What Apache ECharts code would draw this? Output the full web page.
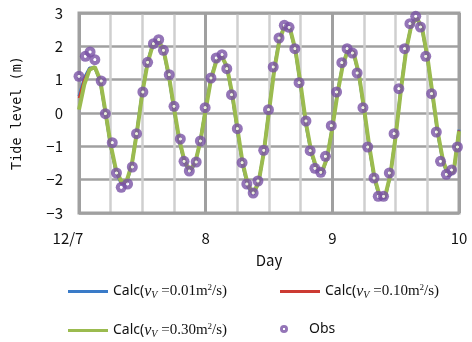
<!DOCTYPE html>
<html>
<head>
<meta charset="utf-8">
<script src="https://cdn.jsdelivr.net/npm/echarts@6/dist/echarts.min.js"></script>
<style>html,body{margin:0;padding:0;background:#fff;}#c{width:472px;height:342px;}</style>
</head>
<body>
<div id="c"></div>
<script>
// Hours since 12/7 00:00 for the hourly calculated values
var calcHours = [0,1,2,3,4,5,6,7,8,9,10,11,12,13,14,15,16,17,18,19,20,21,22,23,24,25,26,27,28,29,30,31,32,33,34,35,36,37,38,39,40,41,42,43,44,45,46,47,48,49,50,51,52,53,54,55,56,57,58,59,60,61,62,63,64,65,66,67,68,69,70,71,72];
var calc001 = [0.50,1.05,1.35,1.36,0.95,0.00,-1.00,-1.75,-2.12,-2.10,-1.55,-0.50,0.65,1.55,2.08,2.18,1.88,1.10,0.10,-0.85,-1.50,-1.76,-1.52,-0.82,0.15,1.05,1.58,1.72,1.38,0.55,-0.52,-1.56,-2.22,-2.45,-2.12,-1.18,0.10,1.35,2.24,2.63,2.50,1.86,0.80,-0.36,-1.20,-1.70,-1.82,-1.35,-0.42,0.65,1.48,1.92,1.80,1.16,0.10,-1.06,-2.00,-2.56,-2.55,-1.86,-0.66,0.75,1.93,2.66,2.84,2.52,1.65,0.50,-0.66,-1.50,-1.90,-1.78,-0.50];
var calc010 = [0.45,1.00,1.33,1.37,0.97,0.02,-0.98,-1.73,-2.10,-2.08,-1.55,-0.52,0.62,1.52,2.06,2.18,1.89,1.12,0.12,-0.83,-1.48,-1.74,-1.51,-0.84,0.12,1.02,1.56,1.72,1.39,0.57,-0.49,-1.53,-2.19,-2.43,-2.11,-1.19,0.07,1.32,2.22,2.62,2.51,1.88,0.82,-0.33,-1.18,-1.68,-1.80,-1.35,-0.44,0.62,1.46,1.91,1.81,1.18,0.12,-1.03,-1.98,-2.53,-2.53,-1.86,-0.68,0.72,1.91,2.65,2.85,2.54,1.68,0.52,-0.63,-1.48,-1.88,-1.77,-0.52];
var calc030 = [0.10,0.85,1.30,1.38,1.00,0.05,-0.95,-1.70,-2.05,-2.05,-1.55,-0.55,0.60,1.50,2.05,2.18,1.90,1.15,0.15,-0.80,-1.45,-1.72,-1.50,-0.85,0.10,1.00,1.55,1.72,1.40,0.60,-0.45,-1.50,-2.15,-2.40,-2.10,-1.20,0.05,1.30,2.20,2.62,2.52,1.90,0.85,-0.30,-1.15,-1.65,-1.78,-1.35,-0.45,0.60,1.45,1.90,1.82,1.20,0.15,-1.00,-1.95,-2.50,-2.50,-1.85,-0.70,0.70,1.90,2.65,2.85,2.55,1.70,0.55,-0.60,-1.45,-1.85,-1.75,-0.55];
// Observed values (hours since 12/7 00:00, tide level m)
var obsHours = [0,1.2,2.1,3,4.2,5,6.3,7.1,8,9.2,10.1,10.9,12.1,13,14.1,15.1,16,17.1,18,19.2,19.9,20.9,22.2,23,23.9,25,26,27.1,28,28.9,30,30.9,31.8,33,33.9,35,35.9,36.8,37.9,38.9,39.8,40.9,41.7,43,43.8,44.7,45.8,46.7,47.8,48.8,49.8,50.8,51.8,52.7,53.8,54.7,55.9,56.7,57.7,58.8,59.7,60.6,61.7,62.7,63.8,64.7,65.7,66.8,67.7,68.5,69.6,70.6,71.7];
var obsValues = [1.10,1.70,1.83,1.60,0.96,-0.02,-0.89,-1.80,-2.23,-2.13,-1.62,-0.62,0.63,1.52,2.08,2.20,1.88,1.15,0.20,-0.78,-1.45,-1.74,-1.47,-0.84,0.16,1.05,1.65,1.75,1.33,0.55,-0.47,-1.49,-2.13,-2.40,-2.04,-1.12,0.10,1.38,2.25,2.63,2.57,1.93,0.91,-0.24,-1.13,-1.66,-1.78,-1.30,-0.38,0.63,1.51,1.93,1.80,1.20,0.16,-1.02,-1.95,-2.50,-2.50,-1.80,-0.62,0.73,1.93,2.68,2.90,2.58,1.70,0.58,-0.57,-1.45,-1.84,-1.71,-1.02];
var xTickLabels = {0:'12/7', 24:'8', 48:'9', 72:'10'};
var yTicks = [-3,-2,-1,0,1,2,3];
var seriesNames = ['Calc 0.01','Calc 0.10','Calc 0.30','Obs'];
var nuLabels = ['0.01','0.10','0.30'];

function zip(a,b){ var r=[]; for(var i=0;i<a.length;i++) r.push([a[i],b[i]]); return r; }

var chart = echarts.init(document.getElementById('c'), null, {renderer:'canvas'});
var serif = 'Liberation Serif';
var rich = {
  a:{fontFamily:'Noto Sans', fontSize:14, color:'#111'},
  b:{fontFamily:serif, fontStyle:'italic', fontSize:16, color:'#111'},
  c:{fontFamily:serif, fontStyle:'italic', fontSize:10, color:'#111', padding:[8,0,0,0]},
  d:{fontFamily:serif, fontSize:15, color:'#111'},
  e:{fontFamily:serif, fontSize:9, color:'#111', padding:[0,0,8,0]},
  o:{fontFamily:'Noto Sans', fontSize:14, color:'#111'}
};
function legendFmt(name){
  var i = seriesNames.indexOf(name);
  if (i === 3) return '{o|Obs}';
  return '{a|Calc(}{b|ν}{c|V}{d| =' + nuLabels[i] + 'm}{e|2}{d|/s)}';
}
function mkLegend(name, left, top, icon){
  return {data:[{name:name, icon:icon}], left:left, top:top, itemWidth:40, itemHeight: icon==='circle'?8:3, itemGap:0,
    formatter:legendFmt, textStyle:{rich:rich}, selectedMode:false, padding:0};
}
var axisFont = 'Noto Sans CJK JP';
var purple = '#7952a5';
var obsFill = {type:'radial', x:0.5, y:0.5, r:0.5, colorStops:[
  {offset:0, color:'#ffffff'}, {offset:0.2, color:'#ffffff'}, {offset:0.34, color:purple}, {offset:1, color:purple}]};

var option = {
  animation:false,
  backgroundColor:'#fff',
  grid:{left:79, right:13, top:13, bottom:129, show:true, borderColor:'#a0a0a0', borderWidth:3, backgroundColor:'transparent', z:3},
  legend:[
    mkLegend(seriesNames[0], 68, 283, 'rect'),
    mkLegend(seriesNames[1], 280, 283, 'rect'),
    mkLegend(seriesNames[2], 68, 322, 'rect'),
    mkLegend(seriesNames[3], 280, 322, 'circle')
  ],
  xAxis:[
    {type:'value', min:0, max:72, interval:6, axisLine:{show:false}, axisTick:{show:false}, axisLabel:{show:false},
     splitLine:{show:true, lineStyle:{color:'#cfcfcf', width:2.5}}},
    {type:'value', min:0, max:72, interval:24, axisLine:{show:false}, axisTick:{show:false},
     name:'Day', nameLocation:'middle', nameGap:40, nameTextStyle:{fontFamily:axisFont, fontSize:15, color:'#111'},
     axisLabel:{margin:18, fontFamily:axisFont, fontSize:15, color:'#111',
       formatter:function(v){ var s = xTickLabels[v]||''; return v===0 ? '{l|'+s+'}' : s; },
       rich:{l:{fontFamily:axisFont, fontSize:15, color:'#111', padding:[0,22,0,0]}}},
     splitLine:{show:true, lineStyle:{color:'#a0a0a0', width:3}}, position:'bottom'}
  ],
  yAxis:{type:'value', min:yTicks[0], max:yTicks[yTicks.length-1], interval:1, axisLine:{show:false}, axisTick:{show:false},
    name:'Tide level (m)', nameLocation:'middle', nameGap:55, nameRotate:90,
    nameTextStyle:{fontFamily:'DejaVu Sans Mono', fontSize:13.5, color:'#111'},
    axisLabel:{margin:16, fontFamily:axisFont, fontSize:15, color:'#111', formatter:function(v){return String(v).replace('-','\u2212');}},
    splitLine:{show:true, lineStyle:{color:'#a0a0a0', width:2.5}}},
  series:[
    {name:seriesNames[0], type:'line', xAxisIndex:0, data:zip(calcHours,calc001), symbol:'none', lineStyle:{color:'#3a7bc8', width:3}, itemStyle:{color:'#3a7bc8'}, z:4},
    {name:seriesNames[1], type:'line', xAxisIndex:0, data:zip(calcHours,calc010), symbol:'none', lineStyle:{color:'#cc3b33', width:2.5}, itemStyle:{color:'#cc3b33'}, z:5},
    {name:seriesNames[2], type:'line', xAxisIndex:0, data:zip(calcHours,calc030), symbol:'none', lineStyle:{color:'#9bbb4f', width:4}, itemStyle:{color:'#9bbb4f'}, z:6},
    {name:seriesNames[3], type:'scatter', xAxisIndex:0, data:zip(obsHours,obsValues), symbol:'circle', symbolSize:11,
     itemStyle:{color:obsFill, borderWidth:0}, z:7}
  ]
};
chart.setOption(option);
</script>
</body>
</html>
